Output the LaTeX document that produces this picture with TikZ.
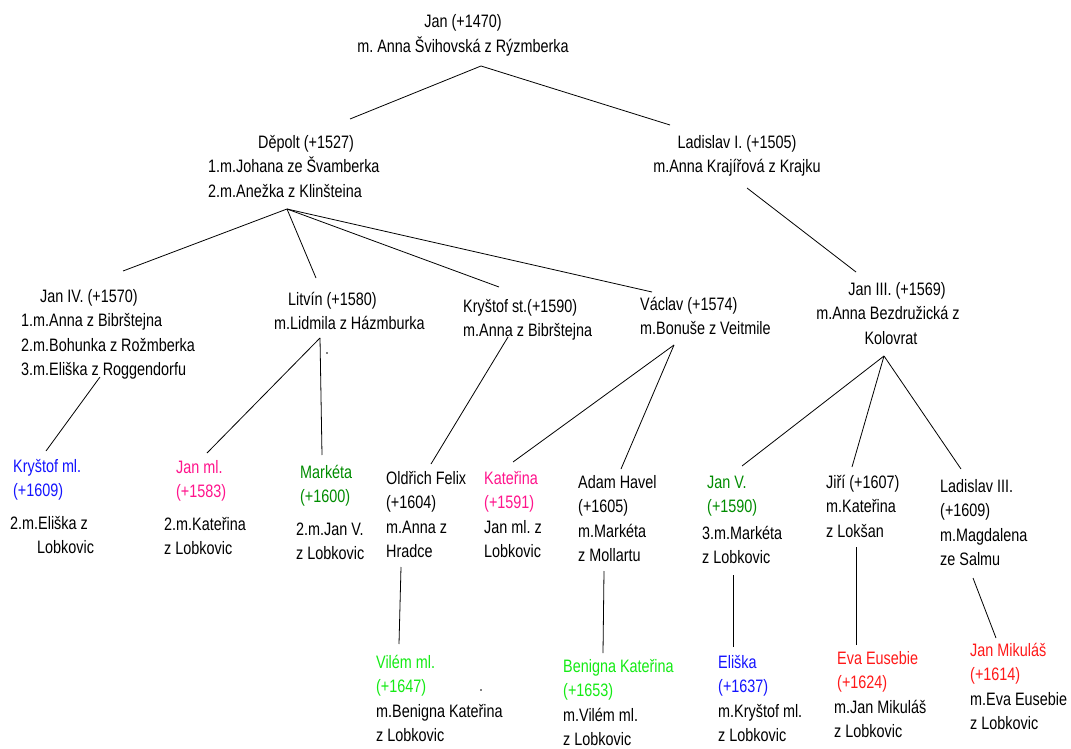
\documentclass[tikz,border=0pt]{standalone}
\usepackage{fontspec}
\setmainfont{Liberation Sans}[FakeStretch=0.8]
\frenchspacing
\definecolor{cblue}{RGB}{20,20,255}
\definecolor{cpink}{RGB}{255,20,140}
\definecolor{cdgreen}{RGB}{0,140,0}
\definecolor{clime}{RGB}{20,235,20}
\definecolor{cred}{RGB}{255,25,25}
\tikzset{
  person/.style={inner sep=0pt, anchor=base west, align=left, font=\fontsize{18}{24.5}\selectfont\frenchspacing},
  personc/.style={person, anchor=base, align=center},
  link/.style={line width=0.8pt, black},
  speck/.style={fill=black, inner sep=0pt, minimum size=1.6pt, circle}
}
\begin{document}
\begin{tikzpicture}[x=1pt,y=-1pt]
\useasboundingbox (0,0) rectangle (1071,749);
\fill[white] (0,0) rectangle (1071,749);

% ---- people (anchor = baseline of the last line) ----
\node[personc] (jan) at (463,52.5) {Jan (+1470)\\m. Anna Švihovská z Rýzmberka};
\node[person] (depolt) at (208,197) {\hspace*{50pt}Děpolt (+1527)\\1.m.Johana ze Švamberka\\2.m.Anežka z Klinšteina};
\node[personc] (lad1) at (737,172.5) {Ladislav I. (+1505)\\m.Anna Krajířová z Krajku};
\node[person] (jan4) at (21,375.5) {\hspace*{19pt}Jan IV. (+1570)\\1.m.Anna z Bibrštejna\\2.m.Bohunka z Rožmberka\\3.m.Eliška z Roggendorfu};
\node[person] (litvin) at (274,329.5) {\hspace*{14pt}Litvín (+1580)\\m.Lidmila z Házmburka};
\node[person] (krystst) at (463,336.5) {Kryštof st.(+1590)\\m.Anna z Bibrštejna};
\node[person] (vaclav) at (640,334.5) {Václav (+1574)\\m.Bonuše z Veitmile};
\node[personc] (jan3) at (888,344) {\hspace*{18pt}Jan III. (+1569)\\m.Anna Bezdružická z\\\hspace*{6pt}Kolovrat};

\node[person] (krystml) at (10,553.5) {\hspace*{3pt}\textcolor{cblue}{Kryštof ml.}\\\hspace*{3pt}\textcolor{cblue}{(+1609)}\\[8pt]2.m.Eliška z\\\hspace*{27pt}Lobkovic};
\node[person] (janml) at (164,554.5) {\hspace*{12pt}\textcolor{cpink}{Jan ml.}\\\hspace*{12pt}\textcolor{cpink}{(+1583)}\\[8pt]2.m.Kateřina\\z Lobkovic};
\node[person] (marketa) at (296,559.5) {\hspace*{4pt}\textcolor{cdgreen}{Markéta}\\\hspace*{4pt}\textcolor{cdgreen}{(+1600)}\\[8pt]2.m.Jan V.\\z Lobkovic};
\node[person] (oldrich) at (386,557.5) {Oldřich Felix\\(+1604)\\m.Anna z\\Hradce};
\node[person] (katerina) at (484,557.5) {\textcolor{cpink}{Kateřina}\\\textcolor{cpink}{(+1591)}\\Jan ml. z\\Lobkovic};
\node[person] (adam) at (578,561.5) {Adam Havel\\(+1605)\\m.Markéta\\z Mollartu};
\node[person] (jan5) at (702,563.5) {\hspace*{5pt}\textcolor{cdgreen}{Jan V.}\\\hspace*{5pt}\textcolor{cdgreen}{(+1590)}\\[2pt]3.m.Markéta\\z Lobkovic};
\node[person] (jiri) at (826,537) {Jiří (+1607)\\m.Kateřina\\z Lokšan};
\node[person] (lad3) at (940,565.5) {Ladislav III.\\(+1609)\\m.Magdalena\\ze Salmu};

\node[person] (vilem) at (376,741.5) {\textcolor{clime}{Vilém ml.}\\\textcolor{clime}{(+1647)}\\m.Benigna Kateřina\\z Lobkovic};
\node[person] (benigna) at (563,745.5) {\textcolor{clime}{Benigna Kateřina}\\\textcolor{clime}{(+1653)}\\m.Vilém ml.\\z Lobkovic};
\node[person] (eliska) at (718,741.5) {\textcolor{cblue}{Eliška}\\\textcolor{cblue}{(+1637)}\\m.Kryštof ml.\\z Lobkovic};
\node[person] (eva) at (834,737.5) {\hspace*{3pt}\textcolor{cred}{Eva Eusebie}\\\hspace*{3pt}\textcolor{cred}{(+1624)}\\m.Jan Mikuláš\\z Lobkovic};
\node[person] (janmik) at (970,729.5) {\textcolor{cred}{Jan Mikuláš}\\\textcolor{cred}{(+1614)}\\m.Eva Eusebie\\z Lobkovic};

% ---- attachment points ----
\coordinate (jan-b) at (481,66);
\coordinate (depolt-t) at (350,119);
\coordinate (lad1-t) at (670,125);
\coordinate (lad1-b) at (747,188);
\coordinate (jan3-t) at (856,272);
\coordinate (depolt-b) at (287,209);
\coordinate (jan4-t) at (123,271);
\coordinate (litvin-t) at (316,278);
\coordinate (krystst-t) at (499,287);
\coordinate (vaclav-t) at (652,292);
\coordinate (jan4-b) at (100,377);
\coordinate (krystml-t) at (46,451);
\coordinate (litvin-b) at (320,338);
\coordinate (janml-t) at (207,453);
\coordinate (marketa-t) at (322,455);
\coordinate (krystst-b) at (508,337);
\coordinate (oldrich-t) at (431,464);
\coordinate (oldrich-b) at (401,567);
\coordinate (vilem-t) at (399,644);
\coordinate (vaclav-b) at (674,345);
\coordinate (katerina-t) at (513,462);
\coordinate (adam-t) at (621,469);
\coordinate (adam-b) at (604,571);
\coordinate (benigna-t) at (603,653);
\coordinate (jan3-b) at (884,356);
\coordinate (jan5-t) at (742,466);
\coordinate (jiri-t) at (852,467);
\coordinate (lad3-t) at (961,469);
\coordinate (jan5-b) at (733,575);
\coordinate (eliska-t) at (733,647);
\coordinate (jiri-b) at (856,547);
\coordinate (eva-t) at (856,645);
\coordinate (lad3-b) at (973,578);
\coordinate (janmik-t) at (996,638);

% ---- connectors ----
\draw[link] (jan-b) -- (depolt-t);
\draw[link] (jan-b) -- (lad1-t);
\draw[link] (lad1-b) -- (jan3-t);
\draw[link] (depolt-b) -- (jan4-t);
\draw[link] (depolt-b) -- (litvin-t);
\draw[link] (depolt-b) -- (krystst-t);
\draw[link] (depolt-b) -- (vaclav-t);
\draw[link] (jan4-b) -- (krystml-t);
\draw[link] (litvin-b) -- (janml-t);
\draw[link] (litvin-b) -- (marketa-t);
\draw[link] (krystst-b) -- (oldrich-t);
\draw[link] (oldrich-b) -- (vilem-t);
\draw[link] (vaclav-b) -- (katerina-t);
\draw[link] (vaclav-b) -- (adam-t);
\draw[link] (adam-b) -- (benigna-t);
\draw[link] (jan3-b) -- (jan5-t);
\draw[link] (jan3-b) -- (jiri-t);
\draw[link] (jan3-b) -- (lad3-t);
\draw[link] (eliska-t) -- (jan5-b);
\draw[link] (eva-t) -- (jiri-b);
\draw[link] (janmik-t) -- (lad3-b);

% ---- stray specks ----
\node[speck] (speck1) at (327,353) {};
\node[speck] (speck2) at (481,690) {};
\end{tikzpicture}
\end{document}
